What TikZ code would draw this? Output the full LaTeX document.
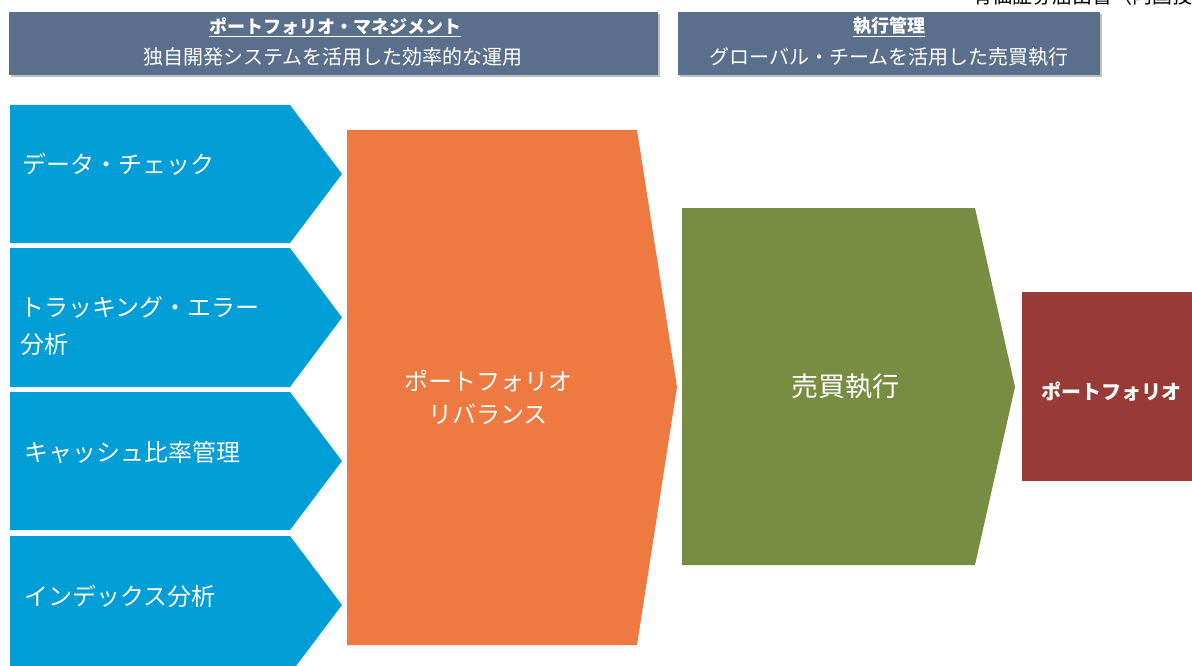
\documentclass[tikz,border=0pt]{standalone}
\usepackage{fontspec}
\setmainfont{Noto Sans CJK JP}
\definecolor{hdr}{HTML}{5A6F8B}
\definecolor{cblue}{HTML}{009ED6}
\definecolor{corange}{HTML}{EE7941}
\definecolor{cgreen}{HTML}{788C42}
\definecolor{cred}{HTML}{983B37}
\tikzset{
  px/.style={x=1pt,y=-1pt},
  hdrbox/.style={fill=hdr},
  hdrtitle/.style={text=white,font=\fontsize{18}{22}\selectfont\bfseries,inner sep=0pt},
  hdrsub/.style={text=white,font=\fontsize{20}{24}\selectfont,inner sep=0pt},
  bluetxt/.style={text=white,font=\fontsize{24}{37}\selectfont,inner sep=0pt,anchor=north west,align=left},
  bigtxt/.style={text=white,inner sep=0pt,align=center},
}
\begin{document}
\begin{tikzpicture}[px]
\useasboundingbox (0,0) rectangle (1192,666);
\clip (0,0) rectangle (1192,666);
% clipped running head
\node[anchor=center,inner sep=0pt,font=\fontsize{20}{24}\selectfont] (runhead) at (1082,-4) {有価証券届出書（内国投};
% headers
\fill[black!25] (11,14) rectangle (660,77);
\fill[hdrbox] (9,12) rectangle (658,75);
\fill[black!25] (680,14) rectangle (1102,77);
\fill[hdrbox] (678,12) rectangle (1100,75);
\node[hdrtitle] (h1t) at (335,27) {\underline{ポートフォリオ・マネジメント}};
\node[hdrsub] (h1s) at (333,57) {独自開発システムを活用した効率的な運用};
\node[hdrtitle] (h2t) at (889,27) {\underline{執行管理}};
\node[hdrsub] (h2s) at (889,57) {グローバル・チームを活用した売買執行};
% blue chevrons
\foreach \t/\b in {105/243,248/387,392/530,536/674}{
  \fill[cblue] (10,\t) -- (290,\t) -- (342,{(\t+\b)/2}) -- (290,\b) -- (10,\b) -- cycle;
}
\node[bluetxt] (b1) at (22,153) {データ・チェック};
\node[bluetxt] (b2) at (20,296) {トラッキング・エラー\\分析};
\node[bluetxt] (b3) at (24,441) {キャッシュ比率管理};
\node[bluetxt] (b4) at (24,585) {インデックス分析};
% orange
\fill[corange] (347,130) -- (637,130) -- (677,387) -- (637,645) -- (347,645) -- cycle;
\node[bigtxt,font=\fontsize{24}{33}\selectfont] (reb) at (488,397) {ポートフォリオ\\リバランス};
% green
\fill[cgreen] (682,208) -- (975,208) -- (1015,387) -- (975,565) -- (682,565) -- cycle;
\node[bigtxt,font=\fontsize{27}{33}\selectfont] (exe) at (845,386) {売買執行};
% red
\fill[cred] (1022,292) rectangle (1200,481);
\node[bigtxt,font=\fontsize{20}{24}\selectfont\bfseries] (pf) at (1111,392) {ポートフォリオ};
\end{tikzpicture}
\end{document}
